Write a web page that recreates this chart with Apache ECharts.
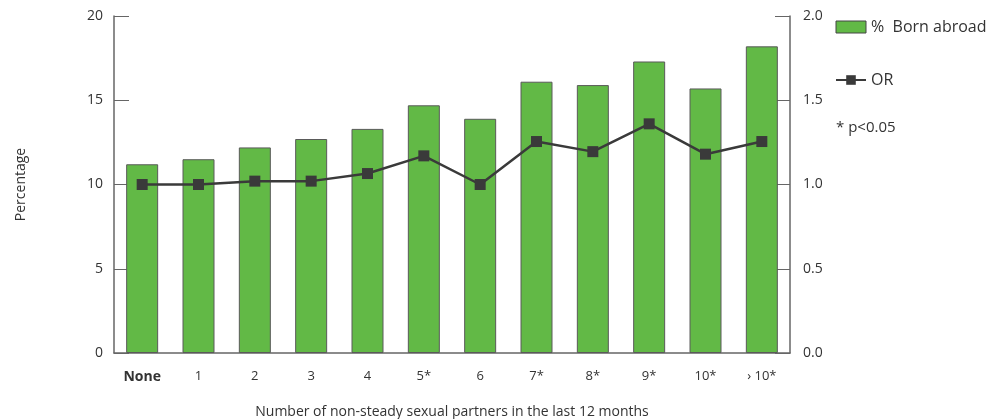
<!DOCTYPE html>
<html><head><meta charset="utf-8">
<script src="https://cdn.jsdelivr.net/npm/echarts@6/dist/echarts.min.js"></script>
<style>html,body{margin:0;padding:0;background:#fff}#c{width:994px;height:419px}</style>
</head><body><div id="c"></div>
<script>
var categories = ['None','1','2','3','4','5*','6','7*','8*','9*','10*','› 10*'];
var bornAbroad = [11.2, 11.5, 12.2, 12.7, 13.3, 14.7, 13.9, 16.1, 15.9, 17.3, 15.7, 18.2];
var oddsRatio = [1.0, 1.0, 1.02, 1.02, 1.065, 1.17, 1.0, 1.255, 1.195, 1.36, 1.18, 1.255];
var leftTicks = [0, 5, 10, 15, 20];
var rightTicks = [0.0, 0.5, 1.0, 1.5, 2.0];

var FONT = 'Open Sans';
var chart = echarts.init(document.getElementById('c'), null, {renderer:'canvas'});
chart.setOption({
  animation: false,
  textStyle: {fontFamily: FONT},
  grid: {left: 114, right: 204, top: 16, bottom: 66, outerBoundsMode: 'none', containLabel: false},
  legend: {
    orient: 'vertical', left: 830, top: 14, itemGap: 37,
    itemWidth: 30, itemHeight: 12,
    textStyle: {fontFamily: FONT, fontSize: 16, color: '#333'},
    data: [{name: '%  Born abroad', icon: 'rect', itemStyle: {borderColor: '#444', borderWidth: 1}}, {name: 'OR'}]
  },
  graphic: [{type: 'text', left: 836, top: 120, style: {text: '* p<0.05', font: '15px "Open Sans"', fill: '#333'}}],
  xAxis: {
    type: 'category', data: categories,
    name: 'Number of non-steady sexual partners in the last 12 months',
    nameLocation: 'middle', nameGap: 52,
    nameTextStyle: {fontSize: 14, color: '#333', fontFamily: FONT},
    axisLine: {lineStyle: {color: '#666', width: 1.5}},
    axisTick: {inside: true, length: 8, lineStyle: {color: '#666'}},
    axisLabel: {
      interval: 0, margin: 17, fontSize: 13, color: '#333',
      formatter: function (v) { return v === 'None' ? '{b|' + v + '}' : v; },
      rich: {b: {fontWeight: 'bold', fontSize: 14, color: '#333', fontFamily: FONT}}
    }
  },
  yAxis: [{
    type: 'value', min: leftTicks[0], max: leftTicks[leftTicks.length-1], interval: 5,
    name: 'Percentage', nameLocation: 'middle', nameGap: 86, nameRotate: 90,
    nameTextStyle: {fontSize: 14, color: '#333', fontFamily: FONT},
    axisLine: {show: true, lineStyle: {color: '#666', width: 1.5}},
    axisTick: {show: true, inside: true, length: 15, lineStyle: {color: '#666'}},
    axisLabel: {margin: 11, fontSize: 14, color: '#333'},
    splitLine: {show: false}
  }, {
    type: 'value', min: rightTicks[0], max: rightTicks[rightTicks.length-1], interval: 0.5,
    position: 'right',
    axisLine: {show: true, lineStyle: {color: '#666', width: 1.5}},
    axisTick: {show: true, inside: true, length: 15, lineStyle: {color: '#666'}},
    axisLabel: {margin: 13, fontSize: 14, color: '#333', formatter: function (v) { return v.toFixed(1); }},
    splitLine: {show: false}
  }],
  series: [{
    name: '%  Born abroad', type: 'bar', data: bornAbroad, yAxisIndex: 0,
    barWidth: 32,
    itemStyle: {color: '#62b946', borderColor: '#5a5a5a', borderWidth: 1}
  }, {
    name: 'OR', type: 'line', data: oddsRatio, yAxisIndex: 1,
    symbol: 'rect', symbolSize: 11,
    lineStyle: {color: '#3a3a3a', width: 2.5},
    itemStyle: {color: '#3a3a3a'}
  }]
});
</script></body></html>
